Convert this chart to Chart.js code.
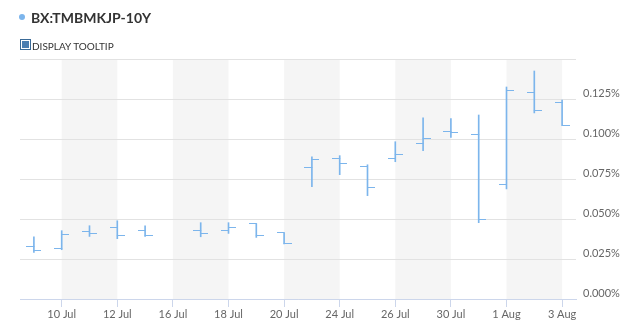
<!DOCTYPE html>
<html>
<head>
<meta charset="utf-8">
<script src="https://cdn.jsdelivr.net/npm/chart.js@4.4.1/dist/chart.umd.min.js"></script>
<style>
  html, body { margin: 0; padding: 0; background: #fff; }
  #wrap { position: relative; width: 640px; height: 332px; font-family: Lato, sans-serif; }
  #dot { position: absolute; left: 19px; top: 14px; width: 6px; height: 6px; border-radius: 50%; background: #7cb5ec; }
  #title { position: absolute; left: 31px; top: 10px; font-size: 14px; line-height: 1.2; font-weight: bold; color: #333; white-space: nowrap; }
  #check { position: absolute; left: 20px; top: 39px; width: 9px; height: 9px; border: 1px solid #3a6a97; background: #fff; }
  #check div { position: absolute; left: 1px; top: 1px; width: 7px; height: 7px; background: #4a7db0; }
  #opt { position: absolute; left: 32px; top: 39.5px; font-size: 10px; line-height: 1.2; color: #333; white-space: nowrap; }
  canvas { position: absolute; left: 0; top: 0; }
</style>
</head>
<body>
<div id="wrap">
  <canvas id="c" width="640" height="332"></canvas>
  <div id="dot"></div>
  <div id="title">BX:TMBMKJP-10Y</div>
  <div id="check"><div></div></div>
  <div id="opt">DISPLAY TOOLTIP</div>
</div>
<script>
// trading days (16 Jul has no quote)
const days = ['9 Jul', '10 Jul', '11 Jul', '12 Jul', '13 Jul', '16 Jul', '17 Jul', '18 Jul', '19 Jul', '20 Jul',
  '23 Jul', '24 Jul', '25 Jul', '26 Jul', '27 Jul', '30 Jul', '31 Jul', '1 Aug', '2 Aug', '3 Aug'];
const opens  = [0.0331, 0.0316, 0.0421, 0.0444, 0.0431, null, 0.0431, 0.0431, 0.0471, 0.0413,
  0.0819, 0.0881, 0.0831, 0.0881, 0.0975, 0.1044, 0.1031, 0.0713, 0.1288, 0.1231];
const highs  = [0.0388, 0.0427, 0.0458, 0.0489, 0.0458, null, 0.0477, 0.0477, 0.0471, 0.0413,
  0.0889, 0.0896, 0.0839, 0.0983, 0.1133, 0.1127, 0.1150, 0.1325, 0.1425, 0.1244];
const lows   = [0.0291, 0.0308, 0.0391, 0.0377, 0.0391, null, 0.0389, 0.0410, 0.0385, 0.0344,
  0.0702, 0.0777, 0.0646, 0.0858, 0.0927, 0.1010, 0.0477, 0.0688, 0.1163, 0.1085];
const closes = [0.0304, 0.0406, 0.0410, 0.0394, 0.0394, null, 0.0410, 0.0450, 0.0400, 0.0350,
  0.0873, 0.0850, 0.0698, 0.0906, 0.1006, 0.1038, 0.0494, 0.1306, 0.1181, 0.1085];
const yTicks = [0, 0.025, 0.05, 0.075, 0.1, 0.125, 0.15];
const bandStarts = [1, 5, 9, 13, 17]; // shaded every other label interval

const BLUE = '#7cb5ec';
Chart.defaults.font.family = 'Lato, sans-serif';

// little horizontal tick used as point style for open (left) / close (right)
function tickMark(side) {
  const c = document.createElement('canvas');
  c.width = 15; c.height = 1;
  const g = c.getContext('2d');
  g.fillStyle = BLUE;
  if (side === 'left') g.fillRect(0, 0, 8, 1); else g.fillRect(7, 0, 8, 1);
  return c;
}

const bands = {
  id: 'bands',
  beforeDraw(chart) {
    const { ctx, chartArea, scales } = chart;
    ctx.save();
    ctx.fillStyle = '#f5f5f5';
    bandStarts.forEach(i => {
      const x0 = scales.x.getPixelForValue(i);
      const x1 = scales.x.getPixelForValue(i + 2);
      ctx.fillRect(x0, chartArea.top, x1 - x0, chartArea.bottom - chartArea.top);
    });
    ctx.restore();
  }
};

new Chart(document.getElementById('c'), {
  type: 'bar',
  data: {
    labels: days,
    datasets: [
      {
        label: 'High-Low',
        data: lows.map((l, i) => l == null ? null : [l, highs[i]]),
        backgroundColor: BLUE,
        barThickness: 1,
        borderWidth: 0
      },
      {
        type: 'line',
        label: 'Open',
        data: opens,
        showLine: false,
        pointStyle: tickMark('left'),
        pointRadius: 3
      },
      {
        type: 'line',
        label: 'Close',
        data: closes,
        showLine: false,
        pointStyle: tickMark('right'),
        pointRadius: 3
      }
    ]
  },
  options: {
    responsive: false,
    animation: false,
    layout: { padding: { left: 20, top: 59, right: 0, bottom: 0 } },
    plugins: { legend: { display: false }, tooltip: { enabled: false } },
    scales: {
      x: {
        offset: true,
        grid: {
          offset: false,
          drawOnChartArea: false,
          tickLength: 8,
          color: c => c.index % 2 === 1 ? '#ccd6eb' : 'rgba(0,0,0,0)'
        },
        border: { display: true, color: '#ccd6eb' },
        ticks: {
          autoSkip: false,
          maxRotation: 0,
          padding: 1,
          color: '#666',
          font: { size: 11 },
          callback(v, i) { return i % 2 === 1 ? this.getLabelForValue(v) : ''; }
        },
        afterFit(s) { s.height = 33; }
      },
      y: {
        position: 'right',
        min: 0,
        max: 0.15,
        afterBuildTicks(s) { s.ticks = yTicks.map(v => ({ value: v })); },
        grid: { color: '#e2e2e2', drawTicks: false },
        border: { display: false },
        ticks: {
          padding: 7,
          labelOffset: -6,
          color: '#666',
          font: { size: 11 },
          callback: v => v > 0.14 ? '' : v.toFixed(3) + '%'
        },
        afterFit(s) { s.width = 64; }
      }
    }
  },
  plugins: [bands]
});
</script>
</body>
</html>
